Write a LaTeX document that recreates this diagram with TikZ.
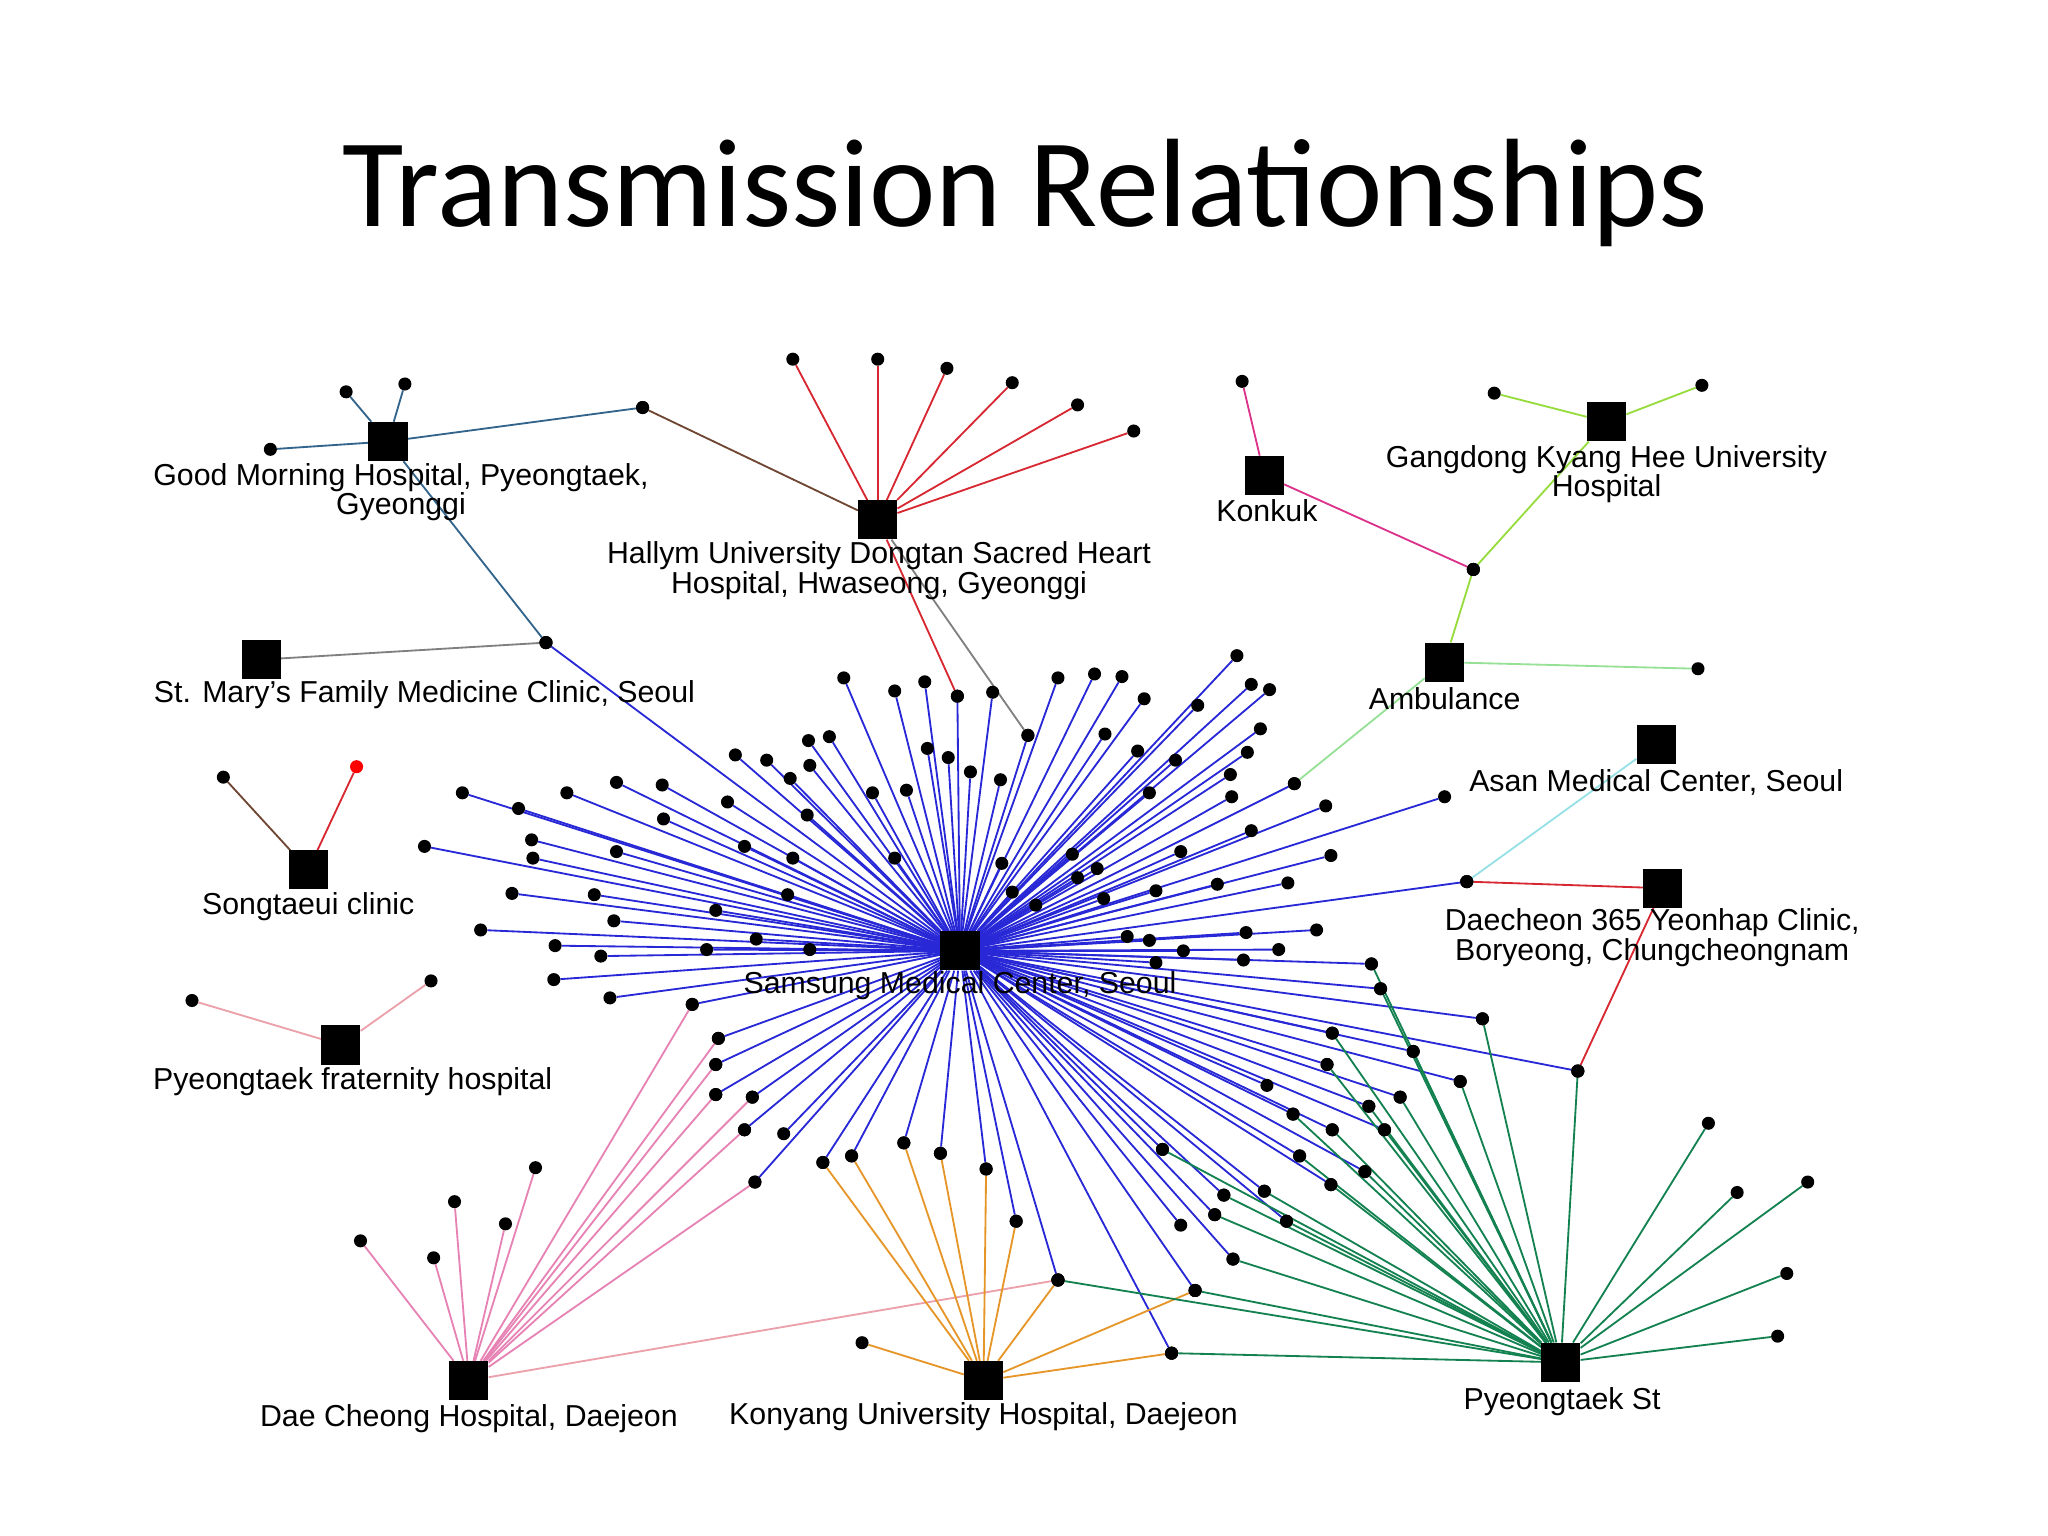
\documentclass[tikz,border=0pt]{standalone}
\usepackage{fontspec}
\setmainfont{Liberation Sans}
\newfontfamily\titlefont{Carlito}
\usetikzlibrary{backgrounds}
\begin{document}
\begin{tikzpicture}[x=0.05cm,y=-0.05cm,
  dot/.style={circle,fill=black,inner sep=0pt,minimum size=0.5cm},
  hub/.style={rectangle,fill=black,inner sep=0pt,minimum size=1.5cm},
  lbl/.style={font=\fontsize{33}{32}\selectfont,align=center,inner sep=0pt},
  edge/.style={line width=2pt}]
\useasboundingbox (0,0) rectangle (1568,1176);
\node[font=\titlefont\fontsize{137}{140}\selectfont] (title) at (785,148) {Transmission Relationships};
% hubs
\node[hub] (S) at (735,728) {};
\node[hub] (GM) at (297,338) {};
\node[hub] (H) at (672,398) {};
\node[hub] (K) at (968,364) {};
\node[hub] (G) at (1230,323) {};
\node[hub] (A) at (1106,507) {};
\node[hub] (AS) at (1268,570) {};
\node[hub] (D) at (1273,680) {};
\node[hub] (ST) at (236,666) {};
\node[hub] (PF) at (261,800) {};
\node[hub] (SM) at (200,505) {};
\node[hub] (DC) at (359,1057) {};
\node[hub] (KY) at (753,1057) {};
\node[hub] (PS) at (1195,1043) {};
% spokes
\newcommand\spokes[3]{%
  \foreach \px/\py in {#3} {%
    \node[dot] (leaf) at (\px,\py) {};
    \begin{pgfonlayer}{background}
      \draw[edge,#2] (#1) -- (leaf);
    \end{pgfonlayer}
  }}
\definecolor{sblue}{RGB}{40,40,215}
\definecolor{steel}{RGB}{50,100,140}
\definecolor{hred}{RGB}{215,40,50}
\definecolor{mag}{RGB}{220,50,140}
\definecolor{lgreen}{RGB}{150,220,60}
\definecolor{pgreen}{RGB}{150,225,150}
\definecolor{cyanl}{RGB}{150,225,230}
\definecolor{pinkl}{RGB}{230,130,180}
\definecolor{oran}{RGB}{230,150,40}
\definecolor{dgreen}{RGB}{20,130,80}
\definecolor{brn}{RGB}{110,70,50}
\definecolor{pinkp}{RGB}{235,160,170}
\spokes{S}{sblue}{646/519,685/529,708/522,733/533,760/530,787/563,710/573,726/580,743/591,766/597,694/605,668/607,620/586,619/567,635/564,587/582,563/578,605/596,557/614,618/624,507/601,472/599,434/607,397/619,354/607,407/643,408/657,472/652,508/627,570/648,607/657,685/657,325/648,392/684,455/685,548/697,603/685,368/712,425/724,460/732,470/705,541/727,579/719,620/727,424/750,467/764,530/769,418/492}
\spokes{S}{sblue}{810/519,838/516,859/518,876/535,947/502,958/524,972/528,917/540,846/562,871/575,965/558,900/582,955/576,942/593,880/607,943/610,991/600,767/661,775/683,793/693,821/654,840/665,825/672,845/688,885/682,904/652,958/636,1015/617,1019/655,932/677,986/676,1106/610,1123/675}
\spokes{S}{sblue}{863/717,880/720,885/737,906/728,954/714,979/727,1008/712,952/735,1050/738,1057/757,1135/780,1082/805,1020/791,1208/820,1118/828,1016/815,1072/840,1048/847,1060/865,1020/865,970/831,990/853,995/885,1045/897,1019/907,968/912,985/935,937/915,930/930,904/938,944/964,890/880,915/988,897/1036}
\spokes{S}{sblue}{550/795,548/815,548/838,576/840,570/865,600/868,578/905,630/890,652/885,692/875,720/883,755/895,778/935,810/980}
\spokes{GM}{steel}{265/300,310/294,207/344,492/312,418/492}
\spokes{H}{hred}{607/275,672/275,725/282,775/293,825/310,868/330,733/533}
\spokes{H}{brn}{492/312}
\spokes{H}{gray}{787/563}
\spokes{SM}{gray}{418/492}
\spokes{K}{mag}{951/292,1128/436}
\spokes{G}{lgreen}{1144/301,1303/295,1128/436}
\spokes{A}{lgreen}{1128/436}
\spokes{A}{pgreen}{1300/512,991/600}
\spokes{AS}{cyanl}{1123/675}
\spokes{D}{hred}{1123/675,1208/820}
\spokes{ST}{brn}{171/595}
\spokes{PF}{pinkp}{147/766,330/751}
\spokes{DC}{pinkl}{276/950,332/963,348/920,387/937,410/894,530/769,550/795,548/815,548/838,576/840,570/865,578/905}
\spokes{DC}{pinkp}{810/980}
\spokes{KY}{oran}{660/1028,630/890,652/885,692/875,720/883,755/895,778/935,810/980,915/988,897/1036}
\spokes{PS}{dgreen}{1050/738,1057/757,1135/780,1082/805,1020/791,1208/820,1118/828,1016/815,1072/840,1048/847,1060/865,1020/865,990/853,995/885,1045/897,1019/907,968/912,985/935,937/915,930/930,944/964,890/880,810/980,915/988,897/1036,1308/860,1330/913,1384/905,1368/975,1361/1023}
\node[circle,fill=red,inner sep=0pt,minimum size=0.5cm] (rd) at (273,587) {};
\begin{pgfonlayer}{background}\draw[edge,hred] (ST) -- (rd);\end{pgfonlayer}
% labels
\node[lbl] (lGM) at (307,377) {Good Morning Hospital, Pyeongtaek,\\Gyeonggi};
\node[lbl] (lH) at (673,437) {Hallym University Dongtan Sacred Heart\\Hospital, Hwaseong, Gyeonggi};
\node[lbl] (lSM) at (325,532) {St. Mary's Family Medicine Clinic, Seoul};
\node[lbl] (lST) at (236,694) {Songtaeui clinic};
\node[lbl] (lPF) at (270,828) {Pyeongtaek fraternity hospital};
\node[lbl] (lK) at (970,391) {Konkuk};
\node[lbl] (lG) at (1230,363) {Gangdong Kyang Hee University\\Hospital};
\node[lbl] (lA) at (1106,535) {Ambulance};
\node[lbl] (lAS) at (1268,599) {Asan Medical Center, Seoul};
\node[lbl] (lD) at (1265,718) {Daecheon 365 Yeonhap Clinic,\\Boryeong, Chungcheongnam};
\node[lbl] (lS) at (735,755) {Samsung Medical Center, Seoul};
\node[lbl] (lDC) at (359,1086) {Dae Cheong Hospital, Daejeon};
\node[lbl] (lKY) at (753,1085) {Konyang University Hospital, Daejeon};
\node[lbl] (lPS) at (1196,1073) {Pyeongtaek St};
\end{tikzpicture}
\end{document}
